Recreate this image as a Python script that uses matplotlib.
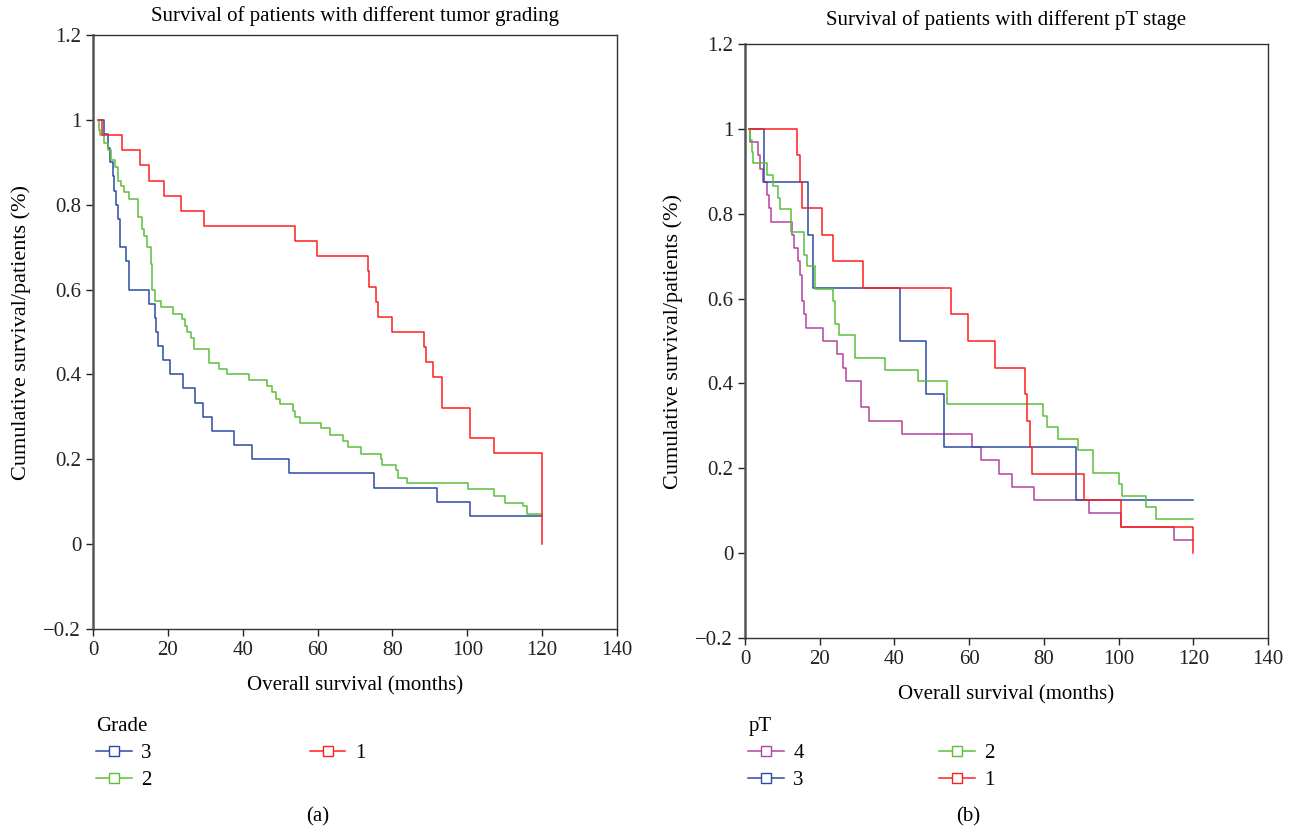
import numpy as np
import matplotlib
matplotlib.use('Agg')
import matplotlib.pyplot as plt
from matplotlib.lines import Line2D

plt.rcParams['font.family'] = ['Liberation Serif', 'DejaVu Serif']

# --- (a) tumor grading ---
grade3_t = [1.5, 3.0, 4.0, 4.5, 5.4, 5.6, 6.1, 6.6, 7.3, 8.9, 9.6, 14.9, 16.5, 16.8, 17.3,
            18.8, 20.6, 24.1, 27.2, 29.5, 31.8, 37.7, 42.4, 52.3, 75.1, 91.9, 100.7, 120]
grade3_s = [1.0, 0.967, 0.933, 0.9, 0.867, 0.833, 0.8, 0.767, 0.7, 0.667, 0.6, 0.567, 0.533, 0.5, 0.467,
            0.433, 0.4, 0.367, 0.333, 0.3, 0.267, 0.233, 0.2, 0.167, 0.133, 0.1, 0.067, 0.067]

grade2_t = [1.3, 1.6, 2.0, 2.9, 4.0, 4.8, 6.0, 6.8, 7.4, 8.3, 9.6, 11.9, 13.0, 13.7, 14.3, 15.4,
            15.8, 16.5, 18.3, 21.3, 23.8, 24.6, 25.2, 26.3, 27.0, 31.1, 33.6, 35.9, 41.8, 46.4,
            47.7, 48.8, 50.0, 53.4, 54.1, 55.3, 61.0, 63.4, 66.8, 68.0, 71.5, 76.9, 77.1, 81.0,
            81.4, 83.9, 100.1, 107.2, 110.1, 114.8, 115.9, 120]
grade2_s = [1.0, 0.976, 0.965, 0.945, 0.93, 0.905, 0.89, 0.856, 0.844, 0.83, 0.813, 0.772, 0.743,
            0.726, 0.70, 0.66, 0.599, 0.573, 0.558, 0.542, 0.531, 0.514, 0.50, 0.485, 0.459, 0.428,
            0.413, 0.402, 0.388, 0.373, 0.358, 0.343, 0.33, 0.314, 0.30, 0.285, 0.273, 0.258, 0.244,
            0.228, 0.212, 0.201, 0.186, 0.175, 0.157, 0.144, 0.129, 0.114, 0.098, 0.09, 0.072, 0.072]

grade1_t = [1.4, 2.5, 7.8, 12.55, 14.9, 18.9, 23.6, 29.6, 53.9, 59.8, 73.4, 73.8, 75.7, 76.2,
            79.8, 88.5, 89.0, 90.8, 93.2, 100.7, 107.2, 120, 120]
grade1_s = [1.0, 0.964, 0.929, 0.893, 0.857, 0.821, 0.786, 0.75, 0.714, 0.679, 0.643, 0.607, 0.571,
            0.536, 0.5, 0.464, 0.429, 0.393, 0.321, 0.25, 0.214, 0.214, 0.0]

# --- (b) pT stage ---
pt4_t = [1.2, 1.4, 3.5, 4.1, 4.7, 6.0, 6.3, 7.0, 12.5, 13.2, 14.1, 14.7, 15.2, 15.8, 16.3, 21.0,
         24.5, 26.3, 27.0, 31.0, 33.3, 42.1, 60.8, 63.2, 67.9, 71.5, 77.4, 92.0, 100.7, 114.8, 120]
pt4_s = [1.0, 0.969, 0.938, 0.906, 0.875, 0.844, 0.8125, 0.781, 0.75, 0.719, 0.6875, 0.656, 0.594,
         0.5625, 0.531, 0.5, 0.469, 0.4375, 0.406, 0.344, 0.3125, 0.281, 0.25, 0.219, 0.1875, 0.156,
         0.125, 0.094, 0.0625, 0.031, 0.031]

pt3_t = [1.2, 5.2, 16.9, 18.1, 41.6, 48.4, 53.3, 88.5, 120]
pt3_s = [1.0, 0.875, 0.75, 0.625, 0.5, 0.375, 0.25, 0.125, 0.125]

pt2_t = [1.2, 1.3, 1.8, 2.2, 5.8, 7.6, 8.8, 9.4, 12.2, 15.8, 16.5, 18.7, 23.5, 24.1, 25.2, 29.4,
         37.5, 46.2, 54.0, 79.7, 80.9, 83.8, 89.1, 93.2, 100.2, 100.8, 107.3, 110.1, 120]
pt2_s = [1.0, 0.973, 0.946, 0.919, 0.892, 0.865, 0.838, 0.811, 0.757, 0.703, 0.676, 0.622, 0.595,
         0.541, 0.514, 0.459, 0.432, 0.405, 0.351, 0.324, 0.297, 0.27, 0.243, 0.189, 0.162, 0.135,
         0.108, 0.081, 0.081]

pt1_t = [1.2, 14.0, 14.7, 15.3, 20.5, 23.5, 31.7, 55.1, 59.8, 66.8, 74.9, 75.6, 76.2, 76.7, 90.8,
         100.7, 120, 120]
pt1_s = [1.0, 0.9375, 0.875, 0.8125, 0.75, 0.6875, 0.625, 0.5625, 0.5, 0.4375, 0.375, 0.3125, 0.25,
         0.1875, 0.125, 0.0625, 0.0625, 0.0]

xticks = [0, 20, 40, 60, 80, 100, 120, 140]
yticks = [-0.2, 0, 0.2, 0.4, 0.6, 0.8, 1.0, 1.2]
ytick_labels = ['\u22120.2', '0', '0.2', '0.4', '0.6', '0.8', '1', '1.2']

BLUE = '#2a4ba3'
GREEN = '#5cbf3c'
RED = '#ff1f1f'
MAGENTA = '#b2429f'

fig = plt.figure(figsize=(12.93, 8.32), dpi=100)
ax1 = fig.add_axes([93/1293, 1-629/832, 524/1293, 594/832])
ax2 = fig.add_axes([745/1293, 1-638/832, 523/1293, 594/832])

def style(ax, title, tpad):
    ax.set_xlim(0, 140)
    ax.set_ylim(-0.2, 1.2)
    ax.set_xticks(xticks)
    ax.set_yticks(yticks)
    ax.set_yticklabels(ytick_labels)
    ax.tick_params(direction='out', length=5, width=1, labelsize=15, colors='#222')
    for s in ax.spines.values():
        s.set_color('#333')
        s.set_linewidth(1.0)
    ax.spines['left'].set_linewidth(1.8)
    ax.spines['left'].set_color('#555')
    ax.set_title(title, fontsize=15, pad=tpad)
    ax.set_xlabel('Overall survival (months)', fontsize=15, labelpad=12)
    ax.set_ylabel('Cumulative survival/patients (%)', fontsize=16, labelpad=9)

lw = 1.1
ax1.step(grade3_t, grade3_s, where='post', color=BLUE, lw=lw)
ax1.step(grade2_t, grade2_s, where='post', color=GREEN, lw=lw)
ax1.step(grade1_t, grade1_s, where='post', color=RED, lw=lw)
style(ax1, 'Survival of patients with different tumor grading', 10)

ax2.step(pt4_t, pt4_s, where='post', color=MAGENTA, lw=lw)
ax2.step(pt3_t, pt3_s, where='post', color=BLUE, lw=lw)
ax2.step(pt2_t, pt2_s, where='post', color=GREEN, lw=lw)
ax2.step(pt1_t, pt1_s, where='post', color=RED, lw=lw)
style(ax2, 'Survival of patients with different pT stage', 14)

def handle(c):
    return Line2D([], [], color=c, lw=1.1, marker='s', markersize=7,
                  markerfacecolor='white', markeredgecolor=c)

leg1 = fig.legend([handle(BLUE), handle(GREEN), handle(RED)], ['3', '2', '1'],
                  title='Grade', ncol=2, loc='upper left',
                  bbox_to_anchor=(86/1293, 1-707/832), frameon=False,
                  fontsize=15, title_fontsize=15, alignment='left',
                  handlelength=1.7, handletextpad=0.45, columnspacing=7.6,
                  labelspacing=0.35, borderpad=0)
leg2 = fig.legend([handle(MAGENTA), handle(BLUE), handle(GREEN), handle(RED)],
                  ['4', '3', '2', '1'],
                  title='pT', ncol=2, loc='upper left',
                  bbox_to_anchor=(738/1293, 1-707/832), frameon=False,
                  fontsize=15, title_fontsize=15, alignment='left',
                  handlelength=1.7, handletextpad=0.45, columnspacing=6.5,
                  labelspacing=0.35, borderpad=0)

fig.text(318/1293, 1-817/832, '(a)', ha='center', va='center', fontsize=15)
fig.text(968/1293, 1-817/832, '(b)', ha='center', va='center', fontsize=15)

fig.savefig('out.png', dpi=100)
